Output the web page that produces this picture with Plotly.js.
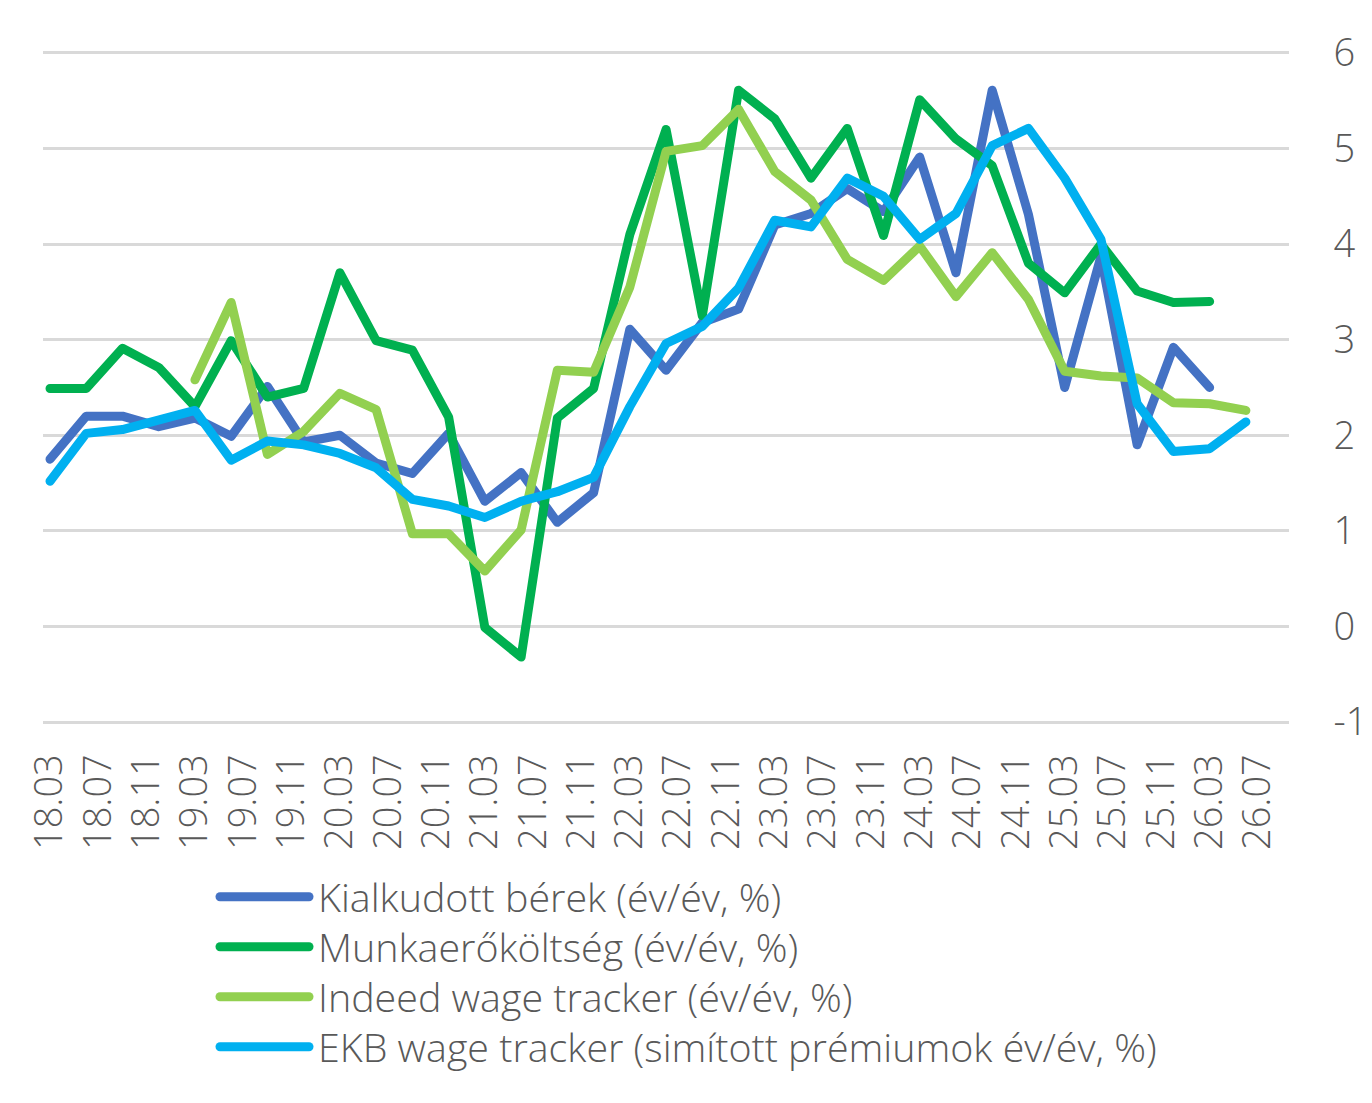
<!DOCTYPE html>
<html>
<head>
<meta charset="utf-8">
<script src="https://cdn.plot.ly/plotly-3.0.1.min.js"></script>
<style>
  html, body { margin: 0; padding: 0; background: #ffffff; }
  #chart { width: 1372px; height: 1103px; }
  .scatterlayer .js-line, .legend .js-line { stroke-linecap: round !important; stroke-linejoin: round !important; }
</style>
</head>
<body>
<div id="chart"></div>
<script>
// Quarterly observation dates (yy.mm)
const quarters = ["18.03","18.06","18.09","18.12","19.03","19.06","19.09","19.12",
  "20.03","20.06","20.09","20.12","21.03","21.06","21.09","21.12",
  "22.03","22.06","22.09","22.12","23.03","23.06","23.09","23.12",
  "24.03","24.06","24.09","24.12","25.03","25.06","25.09","25.12",
  "26.03","26.06"];

// Axis tick labels (every 4 months)
const tickLabels = ["18.03","18.07","18.11","19.03","19.07","19.11","20.03","20.07","20.11",
  "21.03","21.07","21.11","22.03","22.07","22.11","23.03","23.07","23.11",
  "24.03","24.07","24.11","25.03","25.07","25.11","26.03","26.07"];

const yTickVals = [-1, 0, 1, 2, 3, 4, 5, 6];
const yTickText = ["-1", "0", "1", "2", "3", "4", "5", "6"];

const seriesNames = [
  "Kialkudott bérek (év/év, %)",
  "Munkaerőköltség (év/év, %)",
  "Indeed wage tracker (év/év, %)",
  "EKB wage tracker (simított prémiumok év/év, %)"
];

const kialkudott = [1.75, 2.2, 2.2, 2.09, 2.18, 1.99, 2.51, 1.93, 2.0, 1.71, 1.6, 2.02,
  1.31, 1.61, 1.09, 1.4, 3.11, 2.68, 3.18, 3.32, 4.2, 4.32, 4.58, 4.34,
  4.91, 3.7, 5.61, 4.31, 2.5, 3.87, 1.9, 2.92, 2.5];

const munkaero = [2.49, 2.49, 2.91, 2.71, 2.3, 2.99, 2.4, 2.49, 3.7, 2.99, 2.89, 2.19,
  -0.01, -0.32, 2.18, 2.49, 4.1, 5.2, 3.25, 5.61, 5.31, 4.69, 5.21, 4.09,
  5.51, 5.1, 4.82, 3.8, 3.49, 4.0, 3.51, 3.39, 3.4];

const indeed = [null, null, null, null, 2.58, 3.39, 1.8, 2.04, 2.44, 2.27, 0.97, 0.97,
  0.58, 1.01, 2.68, 2.66, 3.55, 4.97, 5.03, 5.41, 4.76, 4.46, 3.84, 3.62,
  3.98, 3.45, 3.91, 3.42, 2.67, 2.62, 2.6, 2.34, 2.33, 2.26];

const ekb = [1.52, 2.02, 2.06, 2.16, 2.26, 1.74, 1.94, 1.9, 1.81, 1.66, 1.33, 1.26,
  1.14, 1.31, 1.41, 1.56, 2.3, 2.96, 3.14, 3.54, 4.25, 4.18, 4.69, 4.5,
  4.05, 4.32, 5.03, 5.21, 4.69, 4.05, 2.33, 1.83, 1.86, 2.14];

const colors = ["#4472C4", "#00B050", "#92D050", "#00B0F0"];

// Monthly category axis from 18.03 to 26.10
const months = [];
for (let y = 18; y <= 26; y++) {
  for (let m = 1; m <= 12; m++) {
    if (y === 18 && m < 3) continue;
    if (y === 26 && m > 10) continue;
    months.push(String(y) + "." + (m < 10 ? "0" + m : String(m)));
  }
}

const FONT = "'Open Sans', Lato, sans-serif";
const TXT = "#595959";

const allSeries = [kialkudott, munkaero, indeed, ekb];
const traces = allSeries.map((vals, i) => ({
  type: "scatter",
  mode: "lines",
  name: seriesNames[i],
  x: quarters.slice(0, vals.length),
  y: vals,
  line: { color: colors[i], width: 9 },
  connectgaps: false,
  hoverinfo: "skip"
}));

const layout = {
  width: 1372,
  height: 1103,
  paper_bgcolor: "#ffffff",
  plot_bgcolor: "#ffffff",
  margin: { l: 43, r: 83, t: 51, b: 379, autoexpand: false },
  font: { family: FONT, color: TXT, size: 38, weight: 300 },
  showlegend: true,
  legend: {
    orientation: "v",
    x: (208 - 43) / 1246,
    xanchor: "left",
    y: -0.209,
    yanchor: "top",
    font: { family: FONT, size: 39.4, color: TXT, weight: 300 },
    itemwidth: 100,
    bgcolor: "rgba(0,0,0,0)",
    traceorder: "normal"
  },
  xaxis: {
    type: "category",
    categoryorder: "array",
    categoryarray: months,
    range: [-0.58, 102.57],
    tickmode: "array",
    tickvals: tickLabels,
    ticktext: tickLabels,
    tickangle: -90,
    ticks: "outside",
    ticklen: 14,
    tickcolor: "rgba(0,0,0,0)",
    showgrid: false,
    showline: false,
    zeroline: false,
    tickfont: { family: FONT, size: 38, color: TXT, weight: 300 },
    fixedrange: true
  },
  yaxis: {
    side: "right",
    range: [-1.02, 6.02],
    tickmode: "array",
    tickvals: yTickVals,
    ticktext: yTickText,
    ticks: "outside",
    ticklen: 36,
    tickcolor: "rgba(0,0,0,0)",
    showgrid: true,
    gridcolor: "#D9D9D9",
    gridwidth: 3,
    zeroline: false,
    showline: false,
    tickfont: { family: FONT, size: 38, color: TXT, weight: 300 },
    fixedrange: true
  }
};

Plotly.newPlot("chart", traces, layout, { staticPlot: true, displayModeBar: false }).then(() => {
  document.querySelectorAll(".legend .legendlines path").forEach(p => {
    p.setAttribute("d", "M12,0h89");
    p.style.strokeWidth = "9px";
  });
  let y0 = null;
  document.querySelectorAll(".legend .traces").forEach((g, i) => {
    const t = g.getAttribute("transform") || "";
    const m = /translate\(\s*([-\d.]+)[ ,]+([-\d.]+)\s*\)/.exec(t);
    if (!m) return;
    if (y0 === null) y0 = parseFloat(m[2]);
    g.setAttribute("transform", "translate(" + m[1] + "," + (y0 + i * 50) + ")");
  });
});
</script>
</body>
</html>
